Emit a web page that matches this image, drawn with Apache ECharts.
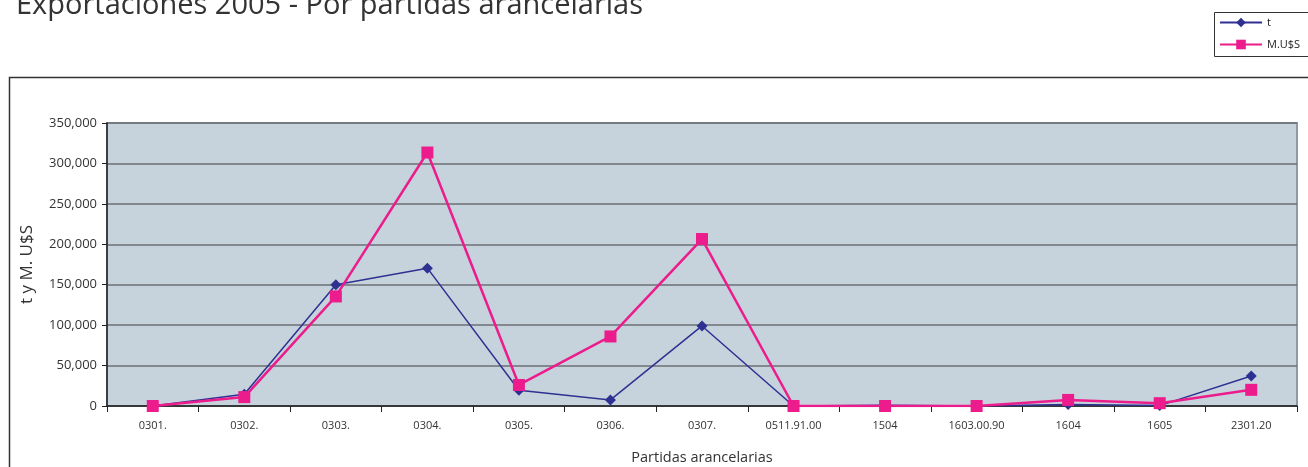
<!DOCTYPE html>
<html>
<head>
<meta charset="utf-8">
<script src="https://cdn.jsdelivr.net/npm/echarts@6/dist/echarts.min.js"></script>
<style>
  html, body { margin: 0; padding: 0; background: #fff; }
  #chart { width: 1308px; height: 467px; }
</style>
</head>
<body>
<div id="chart"></div>
<script>
const partidas = ['0301.', '0302.', '0303.', '0304.', '0305.', '0306.', '0307.', '0511.91.00', '1504', '1603.00.90', '1604', '1605', '2301.20']
const toneladas = [0, 14500, 150000, 170500, 19500, 7500, 99000, 0, 1000, 0, 2000, 500, 37000]
const millonesUsd = [0, 11000, 135500, 313500, 26000, 86000, 206500, 0, 0, 0, 7500, 3500, 20000]

const font = '"Open Sans", "DejaVu Sans", sans-serif'
const chart = echarts.init(document.getElementById('chart'))

chart.setOption({
  animation: false,
  backgroundColor: '#fff',
  title: {
    text: 'Exportaciones 2005 - Por partidas arancelarias',
    left: 11,
    top: -14,
    textStyle: { fontFamily: font, fontSize: 29, fontWeight: 'normal', color: '#333' }
  },
  graphic: [
    {
      type: 'rect',
      shape: { x: 9.5, y: 77.5, width: 1320, height: 420 },
      style: { fill: 'none', stroke: '#333', lineWidth: 1.5 }
    },
    {
      type: 'rect',
      shape: { x: 1214.5, y: 12.5, width: 100, height: 44 },
      style: { fill: '#fff', stroke: '#333', lineWidth: 1 },
      z: 0
    }
  ],
  legend: {
    orient: 'vertical',
    left: 1214,
    top: 12,
    itemGap: 11,
    itemWidth: 42,
    itemHeight: 12,
    textStyle: { fontFamily: font, fontSize: 11, color: '#222' },
    data: ['t', 'M.U$S'],
    z: 5
  },
  grid: {
    left: 107,
    right: 11,
    top: 123,
    bottom: 61,
    outerBoundsMode: 'none',
    show: true,
    backgroundColor: '#c6d3dc',
    borderColor: '#8f9aa2',
    borderWidth: 2
  },
  xAxis: {
    type: 'category',
    data: partidas,
    boundaryGap: true,
    name: 'Partidas arancelarias',
    nameLocation: 'middle',
    nameGap: 44,
    nameTextStyle: { fontFamily: font, fontSize: 14.5, color: '#333' },
    axisLine: { lineStyle: { color: '#222', width: 1.5 } },
    axisTick: { show: true, length: 6, lineStyle: { color: '#222' } },
    axisLabel: { fontFamily: font, fontSize: 11, color: '#333', margin: 14, interval: 0 }
  },
  yAxis: {
    type: 'value',
    min: 0,
    max: 350000,
    interval: 50000,
    name: 't y M. U$S',
    nameLocation: 'middle',
    nameRotate: 90,
    nameGap: 71,
    nameTextStyle: { fontFamily: font, fontSize: 17, color: '#333' },
    axisLine: { show: true, lineStyle: { color: '#222', width: 1.5 } },
    axisTick: { show: true, length: 5, lineStyle: { color: '#222' } },
    axisLabel: {
      fontFamily: font, fontSize: 13, color: '#333', margin: 10,
      formatter: v => v.toLocaleString('en-US')
    },
    splitLine: { lineStyle: { color: '#6b6f73', width: 1.5 } }
  },
  series: [
    {
      name: 't',
      type: 'line',
      data: toneladas,
      symbol: 'diamond',
      symbolSize: 11,
      lineStyle: { color: '#2e3192', width: 1.5 },
      itemStyle: { color: '#2e3192' },
      z: 2
    },
    {
      name: 'M.U$S',
      type: 'line',
      data: millonesUsd,
      symbol: 'rect',
      symbolSize: 12,
      lineStyle: { color: '#ec1c8c', width: 2.5 },
      itemStyle: { color: '#ec1c8c' },
      z: 3
    }
  ]
})
</script>
</body>
</html>
